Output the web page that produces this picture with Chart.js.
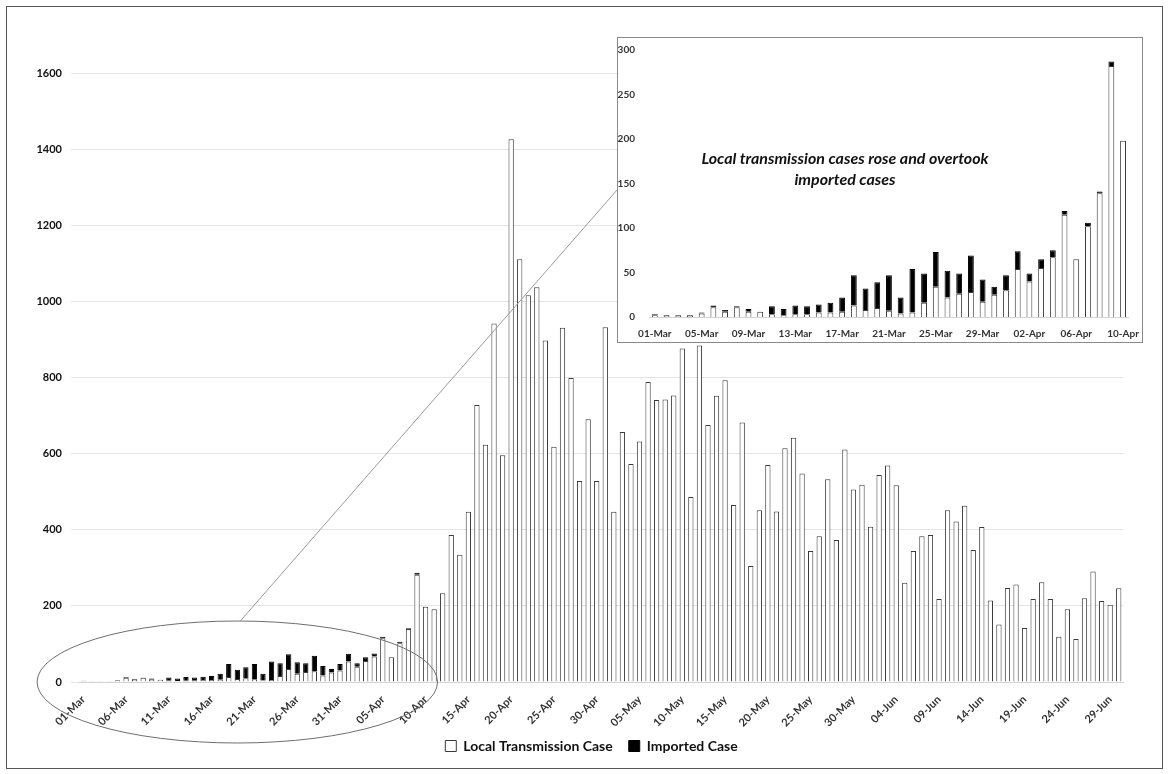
<!DOCTYPE html>
<html>
<head>
<meta charset="utf-8">
<script src="https://cdn.jsdelivr.net/npm/chart.js@4.4.0/dist/chart.umd.min.js"></script>
<style>
  html,body{margin:0;padding:0;background:#fff;}
  #wrap{position:relative;width:1169px;height:774px;overflow:hidden;font-family:Lato,"Open Sans",sans-serif;}
  #mainBox{position:absolute;left:0;top:0;width:1169px;height:774px;}
  #frame{position:absolute;left:6px;top:6px;width:1157px;height:763px;border:1px solid #555;box-sizing:border-box;pointer-events:none;}
  #insetBox{position:absolute;left:617px;top:37px;width:526px;height:306px;background:#fff;border:1px solid #8a8a8a;box-sizing:border-box;}
  #insetCanvasBox{position:absolute;left:0;top:0;width:524px;height:304px;}
  #note{position:absolute;left:12px;top:109px;width:430px;text-align:center;font:italic bold 16px/21px Lato,"Open Sans",sans-serif;color:#111;}
</style>
</head>
<body>
<div id="wrap">
  <div id="mainBox"><canvas id="mainChart"></canvas></div>
  <div id="frame"></div>
  <div id="insetBox">
    <div id="insetCanvasBox"><canvas id="insetChart"></canvas></div>
    <div id="note">Local transmission cases rose and overtook<br>imported cases</div>
  </div>
</div>
<script>
// months shown, with number of days (used only to build the date labels)
const months = [['Mar',31],['Apr',30],['May',31],['Jun',30]];

// 01-Mar .. 31-Mar
const marLocal    = [2,1,1,1,4,11,6,11,6,6, 3,2,3,3,5,5,6,13,8,10, 7,4,5,16,34,22,26,28,17,25, 30];
const marImported = [1,1,1,1,1,2,2,1,3,0, 9,7,10,9,9,11,16,34,24,29, 40,18,49,33,39,30,23,41,25,9, 17];
// 01-Apr .. 30-Apr (imported only readable up to 10-Apr)
const aprLocal    = [54,40,55,67,115,65,102,139,282,198, 191,233,386,334,447,728,623,942,596,1426,
                     1111,1016,1037,897,618,931,799,528,690,528];
const aprImported = [20,9,10,8,4,0,4,2,5,0];
// 01-May .. 31-May
const mayLocal = [932,447,657,573,632,788,741,742,753,876, 486,884,675,752,793,465,682,305,451,570,
                  448,614,642,548,344,383,533,373,611,506, 518];
// 01-Jun .. 30-Jun
const junLocal = [408,544,569,517,261,344,383,386,218,451, 422,463,347,407,214,151,247,256,142,218,
                  262,218,119,191,113,220,290,213,203,246];

const yTicksMain  = [0,200,400,600,800,1000,1200,1400,1600];
const yTicksInset = [0,50,100,150,200,250,300];

const labels = [];
months.forEach(([m,n])=>{ for(let d=1; d<=n; d++) labels.push(String(d).padStart(2,'0')+'-'+m); });
const localCases = [...marLocal, ...aprLocal, ...mayLocal, ...junLocal];
const importedCases = [...marImported, ...aprImported];

const insetDays = importedCases.length; // 01-Mar .. 10-Apr
const insetLabels = labels.slice(0, insetDays);
const insetLocal = localCases.slice(0, insetDays);

const FONT = 'Lato, "Open Sans", sans-serif';
const edge = '#3a3a3a';

// ellipse around the early period and a pointer line to the inset
const zoomMarker = {
  id:'zoomMarker',
  afterLayout(chart){           // nudge legend right/up, as in the source
    const lg = chart.legend;
    lg.left = 60; lg.top -= 4; lg.bottom -= 4;
  },
  afterDatasetsDraw(chart){
    const {ctx, scales:{x,y}} = chart;
    const cx = x.getPixelForValue(18), cy = y.getPixelForValue(0);
    const rx = (x.getPixelForValue(40) - x.getPixelForValue(0)) * 0.585;
    const ry = 61;
    ctx.save();
    ctx.strokeStyle = '#6e6e6e'; ctx.lineWidth = 1;
    ctx.beginPath(); ctx.ellipse(cx, cy, rx, ry, 0, 0, Math.PI*2); ctx.stroke();
    ctx.strokeStyle = '#9a9a9a';
    ctx.beginPath(); ctx.moveTo(cx+3, cy-ry); ctx.lineTo(617, 190); ctx.stroke();
    ctx.restore();
  }
};

new Chart(document.getElementById('mainChart'), {
  type:'bar',
  data:{labels, datasets:[
    {label:'Local Transmission Case', data:localCases, backgroundColor:'#fff', borderColor:edge, borderWidth:1},
    {label:'Imported Case', data:importedCases, backgroundColor:'#000', borderColor:'#000', borderWidth:1}
  ]},
  options:{
    responsive:true, maintainAspectRatio:false, animation:false,
    layout:{padding:{left:0,right:46,top:73,bottom:7}},
    datasets:{bar:{barPercentage:0.62, categoryPercentage:1}},
    plugins:{
      tooltip:{enabled:false},
      legend:{position:'bottom', labels:{color:'#111', font:{family:FONT, size:14, weight:'bold'}, boxWidth:11, boxHeight:11, padding:16}}
    },
    scales:{
      x:{stacked:true,
        grid:{display:false}, border:{color:'#d4d4d4'},
        ticks:{autoSkip:false, minRotation:45, maxRotation:45, color:'#333', font:{family:FONT, size:11, weight:'bold'},
          callback:(v,i)=> i%5===0 ? labels[i] : ''},
        afterFit:s=>{ s.height = 45; }
      },
      y:{stacked:true, min:0, max:1600,
        grid:{color:'#e4e4e4'}, border:{display:false},
        ticks:{color:'#111', padding:9, font:{family:FONT, size:11, weight:'bold'}, callback:v=>String(v)},
        afterBuildTicks:s=>{ s.ticks = yTicksMain.map(v=>({value:v})); },
        afterFit:s=>{ s.width = 79; }
      }
    }
  },
  plugins:[zoomMarker]
});

new Chart(document.getElementById('insetChart'), {
  type:'bar',
  data:{labels:insetLabels, datasets:[
    {label:'Local Transmission Case', data:insetLocal, backgroundColor:'#fff', borderColor:edge, borderWidth:1},
    {label:'Imported Case', data:importedCases, backgroundColor:'#000', borderColor:'#000', borderWidth:1}
  ]},
  options:{
    responsive:true, maintainAspectRatio:false, animation:false,
    layout:{padding:{left:0,right:9,top:10,bottom:0}},
    datasets:{bar:{barPercentage:0.5, categoryPercentage:1}},
    plugins:{legend:{display:false}, tooltip:{enabled:false}},
    scales:{
      x:{stacked:true,
        grid:{display:false}, border:{color:'#d4d4d4'},
        ticks:{autoSkip:false, maxRotation:0, color:'#333', font:{family:FONT, size:10, weight:'bold'},
          callback:(v,i)=> i%4===0 ? insetLabels[i] : ''},
        afterFit:s=>{ s.height = 25; }
      },
      y:{stacked:true, min:0, max:300,
        grid:{display:false}, border:{display:false},
        ticks:{color:'#333', padding:6, font:{family:FONT, size:10, weight:'bold'}},
        afterBuildTicks:s=>{ s.ticks = yTicksInset.map(v=>({value:v})); },
        afterFit:s=>{ s.width = 31; }
      }
    }
  }
});
</script>
</body>
</html>
